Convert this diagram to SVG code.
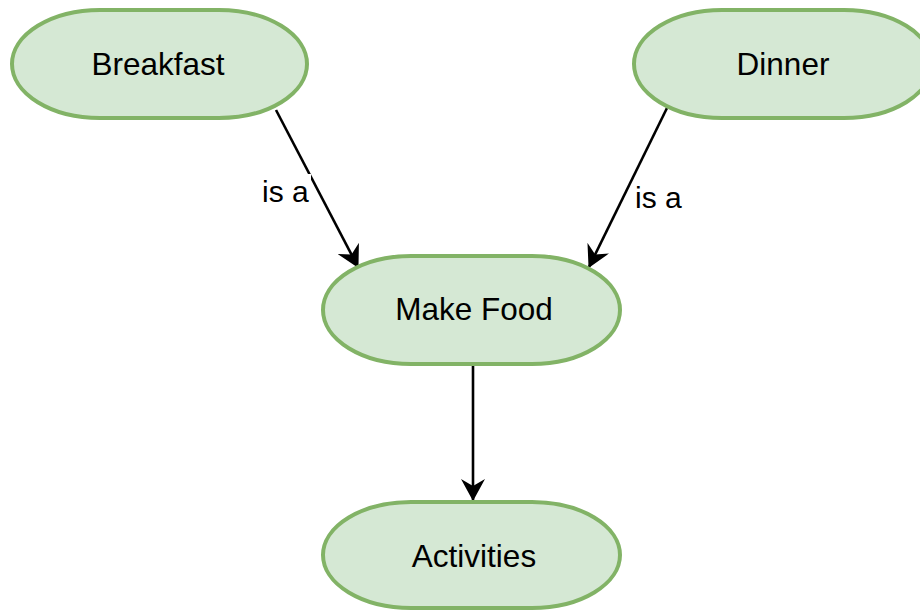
<svg xmlns="http://www.w3.org/2000/svg" width="920" height="610" viewBox="0 0 920 610">
  <style>
    .node rect { fill: #d5e8d4; stroke: #82b366; stroke-width: 4; }
    .node text { font-family: "Liberation Sans", Arial, sans-serif; font-size: 31.5px; fill: #000; text-anchor: middle; }
    .edge { stroke: #000; stroke-width: 2.6; fill: none; }
    .label { font-family: "Liberation Sans", Arial, sans-serif; font-size: 30px; fill: #000; }
  </style>
  <defs>
    <marker id="arrow" viewBox="0 0 22 24" refX="21" refY="12" markerWidth="22" markerHeight="24" markerUnits="userSpaceOnUse" orient="auto">
      <path d="M0,0 L22,12 L0,24 L7,12 Z" fill="#000"/>
    </marker>
  </defs>
  <rect width="920" height="610" fill="#fff"/>

  <!-- connectors -->
  <g id="connectors">
    <line class="edge" x1="276" y1="110" x2="358" y2="267" marker-end="url(#arrow)"/>
    <rect x="261" y="174" width="50" height="36" fill="#fff"/>
    <text class="label" x="262" y="202">is a</text>
    <line class="edge" x1="667" y1="108" x2="589" y2="267" marker-end="url(#arrow)"/>
    <text class="label" x="635" y="208">is a</text>
    <line class="edge" x1="473" y1="366" x2="473" y2="500" marker-end="url(#arrow)"/>
  </g>

  <!-- nodes -->
  <g id="breakfast" class="node">
    <rect x="12" y="10" width="295" height="108" rx="88" ry="54"/>
    <text x="158" y="75">Breakfast</text>
  </g>
  <g id="dinner" class="node">
    <rect x="634" y="10" width="298" height="108" rx="88" ry="54"/>
    <text x="783" y="75">Dinner</text>
  </g>
  <g id="make-food" class="node">
    <rect x="323" y="256" width="297" height="108" rx="88" ry="54"/>
    <text x="474" y="320">Make Food</text>
  </g>
  <g id="activities" class="node">
    <rect x="323" y="502" width="297" height="106" rx="88" ry="53"/>
    <text x="474" y="567">Activities</text>
  </g>
</svg>
